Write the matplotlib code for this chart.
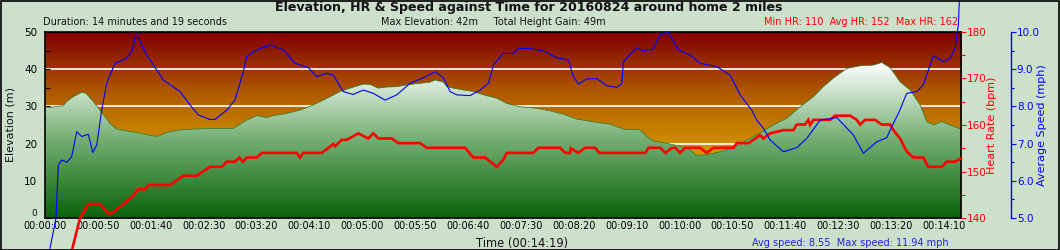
import matplotlib
matplotlib.use('Agg')
import matplotlib.pyplot as plt
import numpy as np
from matplotlib.colors import LinearSegmentedColormap
from matplotlib.ticker import MultipleLocator, FuncFormatter
from matplotlib.patches import Rectangle

# ---------------- data (time in seconds) ----------------
elev_t = [0, 4.7, 17.3, 20.5, 26.8, 34.7, 38.8, 45.7, 53.6, 61.5, 67.8, 77.2, 89.8, 102.4, 107.1,
          115.1, 127.6, 140.2, 159.1, 178, 184.4, 190.7, 200.2, 209.6, 215.6, 228.5, 241.1, 253.7,
          263.1, 269.5, 278.9, 288.4, 301, 307.3, 315.1, 323.1, 332.5, 342, 354.6, 364, 368.8,
          376.6, 379.8, 386.1, 395.5, 405, 414.4, 427.1, 436.5, 449.1, 464.9, 477.5, 490, 502.7,
          521.6, 534.2, 546.8, 562.6, 568.9, 575.2, 587.8, 606.7, 616.2, 625.6, 638.2, 650.8,
          663.5, 676, 688.6, 701.3, 713.9, 726.5, 735.9, 745.4, 758, 770.6, 783.2, 791.1, 799,
          808.4, 817.9, 827.3, 833.6, 839.9, 847.8, 855.7, 866]
elev_m = [29.9, 29.7, 30.2, 31.3, 32.6, 33.8, 33.5, 31.3, 28.4, 25.4, 23.9, 23.4, 22.8, 22.0, 22.0,
          23.0, 23.7, 23.9, 24.1, 24.1, 25.2, 26.3, 27.5, 27.0, 27.5, 28.1, 29.0, 30.4,
          31.7, 32.6, 34.0, 34.9, 36.0, 35.9, 34.9, 35.2, 35.3, 35.8, 36.2, 36.5, 37.1,
          36.5, 35.3, 34.9, 34.4, 34.0, 33.1, 32.2, 30.8, 29.9, 29.5, 28.8, 27.9, 26.6,
          25.7, 25.2, 23.9, 23.7, 21.9, 20.7, 20.1, 18.9, 16.9, 17.0, 17.8, 18.9,
          21.0, 22.8, 25.0, 26.8, 29.9, 32.6, 35.3, 37.6, 40.2, 40.9, 41.1, 41.8, 40.4,
          36.6, 34.4, 30.4, 25.9, 25.0, 25.9, 25.0, 23.9]

hr_t = [0, 33.1, 41, 52, 59.9, 63.1, 70.9, 83.5, 88.2, 94.6, 97.7, 118.2, 130.8, 143.4, 156, 167.1,
        171.8, 179.6, 183.7, 187.2, 190.7, 200.2, 204.9, 238, 241.1, 244.2, 261.6, 272.6, 274.2,
        280.5, 285.2, 296.2, 305.7, 310.4, 315.1, 327.8, 334.1, 354.6, 360.9, 397.1, 405, 416,
        427.1, 433.3, 436.5, 461.7, 466.4, 487, 491.7, 496.4, 497, 504.3, 510.6, 520.1, 524.1,
        567.6, 570.7, 581.8, 586.5, 592.6, 595.9, 600.4, 605.1, 619.3, 625.6, 631.9, 650.8, 654,
        665, 676, 679.2, 685.5, 698.1, 707.6, 710.7, 718.6, 721.7, 723.3, 726.5, 742.2, 747,
        761.2, 767.5, 770.6, 775.3, 784.7, 791.1, 799, 802.1, 808.4, 814.7, 821, 830.4, 835.1,
        847.8, 852.5, 860.4, 866]
hr_bpm = [110, 140, 143, 143, 141, 141, 142.4, 144.8, 146.2, 146.2, 147.1, 147.1, 149.1, 149.1, 151, 151,
          152.1, 152.1, 153, 152.1, 153, 153, 154, 154, 153, 154, 154, 155.9, 155.4,
          156.8, 156.8, 158.2, 157.1, 158.2, 157.1, 157.1, 156.1, 156.1, 155.1, 155.1, 153, 153,
          151, 152.5, 154, 154, 155.1, 155.1, 154, 154, 155, 154, 155.1, 155.1, 154,
          154, 155.1, 155.1, 154, 155.1, 155.1, 154, 155.1, 155.1, 154, 155.1, 155.1, 156.1,
          156.1, 157.8, 157.1, 158.2, 158.9, 158.9, 160.1, 160.1, 161.1, 160.0, 161.1, 161.1, 162,
          162, 161.1, 160.1, 161.1, 161.1, 160.1, 160.1, 158.9, 157.1, 154.3, 153, 153, 151,
          151, 152.1, 152.1, 152.8]

spd_t = [0, 10.4, 12.6, 15.8, 20.5, 25.2, 30, 34.7, 41, 45.1, 48.9, 53.6, 58.3, 66.2, 77.2, 82, 85.1,
         88.2, 96.2, 111.9, 127.6, 137.1, 145, 156, 160.7, 171.8, 179.6, 187.5, 190.7, 200.2,
         212.7, 225.3, 236.4, 249, 256.9, 266.4, 272.6, 281.9, 291.3, 301, 310.4, 321.5, 332.5,
         345.1, 357.7, 368.8, 376.6, 382.9, 389.3, 401.8, 411.3, 419.2, 423.9, 433.3, 442.8,
         447.5, 458.6, 471.2, 483.8, 494.8, 499.5, 504.3, 512.2, 521.6, 531.1, 540.6, 545.3,
         546.8, 553.1, 559.4, 565.7, 575.2, 581.5, 589.3, 598.8, 609.9, 619.3, 635.1, 647.7,
         657.2, 668.2, 672.9, 679.2, 685.5, 698.1, 710.7, 720.2, 732.8, 748.6, 764.3, 773.7,
         786.4, 795.8, 800.5, 806.8, 814.7, 824.2, 830.4, 839.9, 849.4, 855.7, 860.4, 863.5, 866]
spd_mph = [3.5, 5.0, 6.42, 6.56, 6.5, 6.65, 7.32, 7.19, 7.25, 6.76, 6.96, 7.9, 8.62, 9.16, 9.29, 9.47, 9.86,
           9.85, 9.38, 8.71, 8.4, 8.04, 7.77, 7.65, 7.65, 7.9, 8.17, 8.93, 9.34, 9.52,
           9.65, 9.52, 9.16, 9.04, 8.8, 8.89, 8.84, 8.4, 8.32, 8.44, 8.35, 8.17, 8.31,
           8.62, 8.77, 8.93, 8.77, 8.4, 8.31, 8.29, 8.44, 8.62, 9.11, 9.43, 9.42,
           9.56, 9.56, 9.49, 9.31, 9.25, 8.8, 8.6, 8.74, 8.75, 8.56, 8.51, 8.62,
           9.2, 9.4, 9.58, 9.5, 9.54, 9.94, 10.0, 9.52, 9.38, 9.16, 9.07, 8.84,
           8.31, 7.9, 7.63, 7.41, 7.1, 6.78, 6.89, 7.14, 7.63, 7.7, 7.23, 6.74,
           7.05, 7.16, 7.45, 7.81, 8.35, 8.4, 8.58, 9.36, 9.2, 9.29, 9.56, 10.19, 11.9]

title = "Elevation, HR & Speed against Time for 20160824 around home 2 miles"
sub_left = "Duration: 14 minutes and 19 seconds"
sub_mid = "Max Elevation: 42m     Total Height Gain: 49m"
sub_right = "Min HR: 110  Avg HR: 152  Max HR: 162"
bottom_right = "Avg speed: 8.55  Max speed: 11.94 mph"
x_label = "Time (00:14:19)"

# ---------------- layout ----------------
W, H = 1060, 250
BG = '#cde0cc'
fig = plt.figure(figsize=(W / 100, H / 100), dpi=100, facecolor=BG)
L, R, T, B = 45, 961, 32, 218
ax = fig.add_axes([L / W, 1 - B / H, (R - L) / W, (B - T) / H])
x_max = 866
ax.set_xlim(0, x_max)
ax.set_ylim(0, 50)

# background gradient (dark red at top -> orange at lowest elevation)
ys = np.linspace(0, 50, 400)
min_e = min(elev_m)
bg_cmap = LinearSegmentedColormap.from_list('bg', ['#d49a00', '#b05a00', '#800000'])
frac = np.clip((ys - min_e) / (50 - min_e), 0, 1)
bg_img = bg_cmap(frac)[:, None, :3]
ax.imshow(bg_img, extent=[0, x_max, 0, 50], aspect='auto', origin='lower', zorder=0,
          interpolation='bilinear')

# white grid lines
for gy in [10, 20, 30, 40]:
    ax.axhline(gy, color='white', lw=1.2, zorder=1)

# elevation fill with gradient (dark green -> white)
max_e = max(elev_m)
gr_cmap = LinearSegmentedColormap.from_list('gr', ['#0a640a', '#72ae72', '#ffffff'])
gfrac = np.clip(ys / max_e, 0, 1)
gr_img = gr_cmap(gfrac)[:, None, :3]
poly = ax.fill_between(elev_t, elev_m, 0, color='none', lw=0, zorder=2)
im = ax.imshow(gr_img, extent=[0, x_max, 0, 50], aspect='auto', origin='lower', zorder=2,
               interpolation='bilinear')
im.set_clip_path(poly.get_paths()[0], transform=ax.transData)
ax.plot(elev_t, elev_m, color='#2a7a2a', lw=0.5, zorder=3)

# axes styling
for s in ax.spines.values():
    s.set_color('black')
    s.set_linewidth(1.2)
    s.set_zorder(5)

def hms(v, pos=None):
    v = int(round(v))
    return "%02d:%02d:%02d" % (v // 3600, (v % 3600) // 60, v % 60)

def elev_fmt(v, pos=None):
    return "" if abs(v) < 1e-9 else "%d" % v

ax.xaxis.set_major_locator(MultipleLocator(50))
ax.xaxis.set_minor_locator(MultipleLocator(10))
ax.xaxis.set_major_formatter(FuncFormatter(hms))
ax.yaxis.set_major_locator(MultipleLocator(10))
ax.yaxis.set_minor_locator(MultipleLocator(5))
ax.yaxis.set_major_formatter(FuncFormatter(elev_fmt))
ax.tick_params(axis='x', which='both', direction='in', length=3.2, width=0.8, color='black',
               labelsize=7, pad=2.5)
ax.tick_params(axis='y', which='both', direction='in', length=3.6, width=0.8, color='black',
               labelsize=7.5, pad=5.5)

# HR axis
ax2 = ax.twinx()
ax2.set_ylim(140, 180)
ax2.plot(hr_t, hr_bpm, color='#ff0000', lw=1.9, clip_on=False, zorder=6,
         solid_joinstyle='miter')
ax2.yaxis.set_major_locator(MultipleLocator(10))
ax2.yaxis.set_minor_locator(MultipleLocator(5))
ax2.tick_params(axis='y', which='major', direction='out', length=3.6, width=0.8, color='#ff0000',
                labelcolor='#ff0000', labelsize=7.5, pad=0.5)
ax2.tick_params(axis='y', which='minor', direction='out', length=3.0, width=0.8, color='#ff0000')
for k, s in ax2.spines.items():
    s.set_visible(False)

# Speed axis
ax3 = ax.twinx()
ax3.set_ylim(5.0, 10.0)
ax3.plot(spd_t, spd_mph, color='#0000ff', lw=0.8, clip_on=False, zorder=6)
ax3.spines['right'].set_position(('axes', 1 + 49.7 / (R - L)))
for k, s in ax3.spines.items():
    s.set_visible(k == 'right')
ax3.spines['right'].set_color('#0000ff')
ax3.spines['right'].set_linewidth(1.0)
ax3.yaxis.set_major_locator(MultipleLocator(1.0))
ax3.yaxis.set_minor_locator(MultipleLocator(0.5))
ax3.yaxis.set_major_formatter(FuncFormatter(lambda v, p: "%.1f" % v))
ax3.tick_params(axis='y', which='major', direction='out', length=3.6, width=0.8, color='#0000ff',
                labelcolor='#0000ff', labelsize=7.5, pad=0.8)
ax3.tick_params(axis='y', which='minor', direction='out', length=2.2, width=0.8, color='#0000ff')

# texts
def fx(px):
    return px / W

def fy(py):
    return 1 - py / H

fig.text(fx(529), fy(8), title, ha='center', va='center', fontsize=9.1, fontweight='bold',
         color='#111111')
fig.text(fx(43), fy(22), sub_left, ha='left', va='center', fontsize=7, color='#111111')
fig.text(fx(381), fy(22), sub_mid, ha='left', va='center', fontsize=7, color='#111111')
fig.text(fx(958), fy(22), sub_right, ha='right', va='center', fontsize=7, color='#ff0000')
fig.text(fx(522), fy(243), x_label, ha='center', va='center', fontsize=8.3, color='#111111')
fig.text(fx(949), fy(243), bottom_right, ha='right', va='center', fontsize=7, color='#2222dd')
fig.text(fx(11), fy(125), "Elevation (m)", ha='center', va='center', rotation=90,
         fontsize=8, color='#111111')
fig.text(fx(992), fy(125), "Heart Rate (bpm)", ha='center', va='center', rotation=90,
         fontsize=8, color='#ff0000')
fig.text(fx(1042), fy(125), "Average Speed (mph)", ha='center', va='center', rotation=90,
         fontsize=8, color='#0000ff')
# zero label of elevation axis, raised above the time labels as in the reference
fig.text(fx(37), fy(213), "0", ha='right', va='center', fontsize=6.5, color='#111111')

# figure border
fig.patches.append(Rectangle((0.0005, 0.002), 0.999, 0.996, transform=fig.transFigure,
                             fill=False, edgecolor='black', lw=1.2, zorder=10))

fig.savefig('out.png', dpi=100, facecolor=BG)
